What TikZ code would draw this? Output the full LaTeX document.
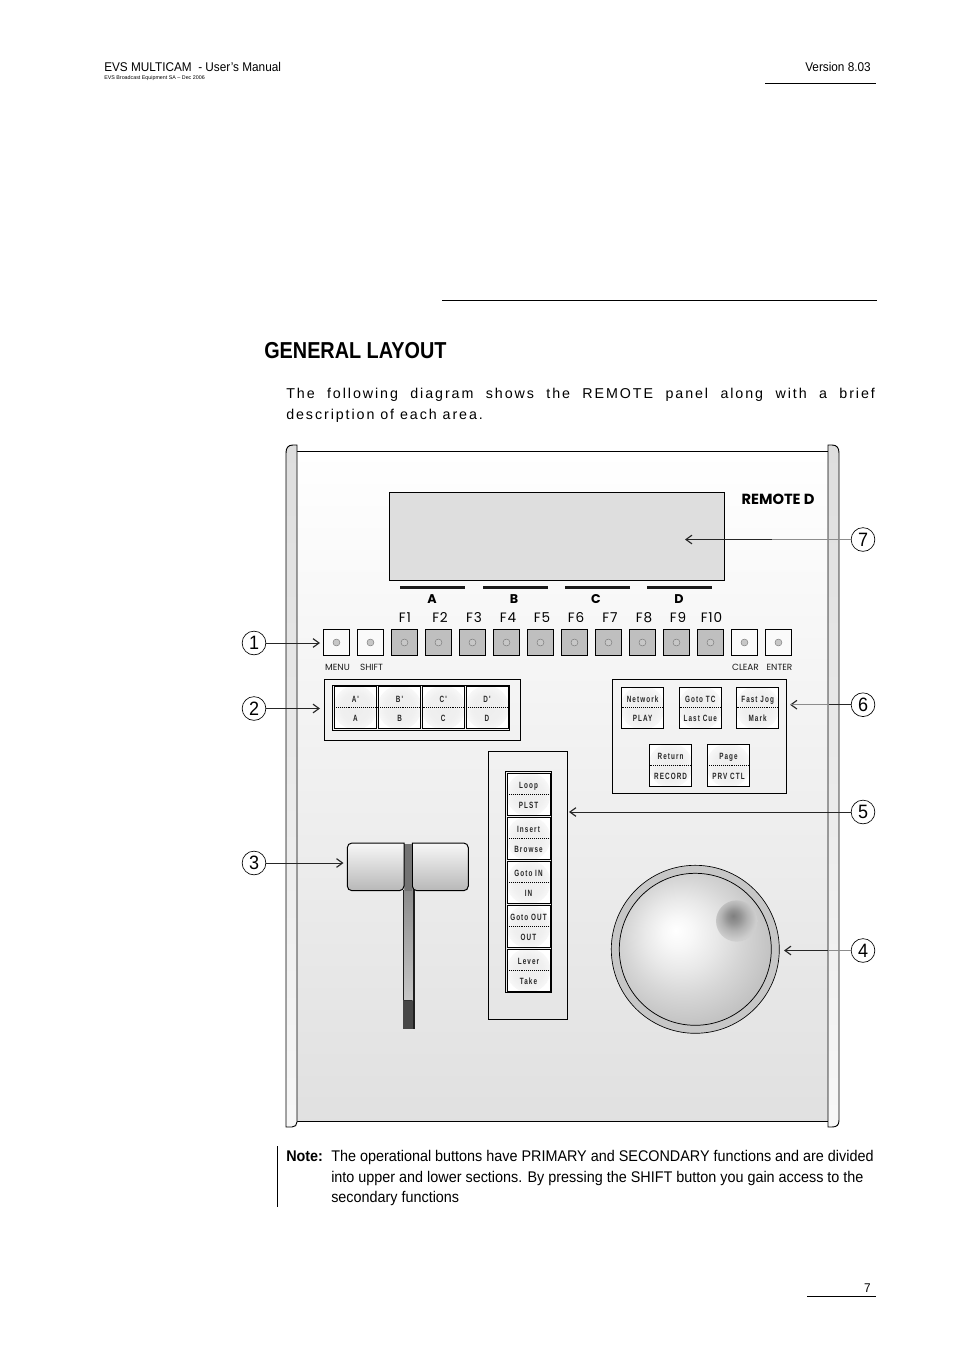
\documentclass[tikz,border=0pt]{standalone}
\usepackage{fontspec}
\usetikzlibrary{arrows.meta}
\setmainfont{Liberation Sans}
\newfontfamily\btnfont[LetterSpace=12,FakeStretch=0.7]{Liberation Sans}
\newfontfamily\geofont{Poppins}
\newfontfamily\geowide[LetterSpace=6]{Poppins}
\newfontfamily\parafont[LetterSpace=13.5]{Liberation Sans}
\newfontfamily\headfont[FakeStretch=0.86]{Liberation Sans}
\newfontfamily\condfont[FakeStretch=0.93]{Liberation Sans}
\pgfdeclareradialshading{knobshade}{\pgfpoint{-6.5bp}{6.3bp}}{color(0bp)=(white);color(5bp)=(white!97!black);color(12bp)=(white!91!black);color(19bp)=(white!84!black);color(27bp)=(white!77!black);color(35bp)=(white!71!black);color(50bp)=(white!71!black)}
\pgfdeclareradialshading{dimpleshade}{\pgfpoint{-4.5bp}{6.4bp}}{color(0bp)=(white!50!black);color(8bp)=(white!58!black);color(16bp)=(white!70!black);color(25bp)=(white!80!black);color(35bp)=(white!84!black);color(50bp)=(white!84!black)}
\pgfdeclareradialshading{glowshade}{\pgfpoint{0bp}{0bp}}{color(0bp)=(white!93!black);color(17bp)=(white!94!black);color(25bp)=(white!97!black);color(50bp)=(white)}
\tikzset{
  x=0.75pt,y=-0.75pt,
  ink/.style={draw=black,line width=0.75pt},
  thin ink/.style={draw=black,line width=0.55pt},
  lamp/.style={circle,draw=black!55,fill=black!22,line width=0.3pt,minimum size=5.2pt,inner sep=0pt},
  fkey/.style={rectangle,draw=black,line width=0.65pt,minimum size=19.8pt,inner sep=0pt},
  whitekey/.style={fkey,fill=white!98!black},
  greykey/.style={fkey,fill=black!25},
  keylabel/.style={inner sep=0pt,font=\geofont\fontsize{6.7}{7}\selectfont,text=black!90},
  flabel/.style={inner sep=0pt,anchor=base,font=\geowide\fontsize{10.2}{11}\selectfont},
  letterlabel/.style={inner sep=0pt,anchor=base,font=\geofont\bfseries\fontsize{9.5}{10}\selectfont},
  btntext/.style={inner sep=0pt,anchor=base,font=\btnfont\bfseries\fontsize{6.8}{7}\selectfont,text=black!85},
  callout/.style={circle,draw=black,line width=0.5pt,fill=white,minimum size=17.8pt,inner sep=0pt,font=\condfont\fontsize{14.5}{15}\selectfont},
  pointer/.style={draw=black!85,line width=0.55pt,-{Straight Barb[length=4.5pt,width=6.5pt,line width=0.85pt]}},
  pale/.style={draw=black!45,line width=0.55pt},
  body/.style={inner sep=0pt,anchor=base west,font=\condfont\fontsize{11.6}{12}\selectfont},
  strip/.style={draw=black,line width=0.7pt,top color=black!13,bottom color=white!97!black},
  handle/.style={ink,top color=white!97!black,middle color=white!93!black,bottom color=black!28},
}
\newcommand{\opbtn}[7]{%
  \draw[thin ink,fill=white] (#2,#3) rectangle (#4,#5);
  \begin{scope}
    \clip (#2,#3) rectangle (#4,#5);
    \shade[shading=glowshade] ({(#2+#4)/2},{(#3+#5)/2}) circle (16.5pt);
  \end{scope}
  \draw[thin ink] (#2,#3) rectangle (#4,#5);
  \draw[black,line width=0.45pt,densely dotted] (#2,{(#3+#5)/2}) -- (#4,{(#3+#5)/2});
  \node[btntext] (#1-top) at ({(#2+#4)/2},{(#3+#5)/2-5.5}) {#6};
  \node[btntext] (#1-bot) at ({(#2+#4)/2},{(#3+#5)/2+14}) {#7};
}
\newcommand{\panelkey}[3]{%
  \node[#3] (#1) at (#2+13.25,642.5) {};
  \node[lamp] (#1-lamp) at (#1.center) {};
}
\begin{document}
\begin{tikzpicture}
\useasboundingbox (0,0) rectangle (954,1350);
\fill[white] (0,0) rectangle (954,1350);
% page furniture
\node[inner sep=0pt,anchor=base west,font=\condfont\fontsize{9.5}{10}\selectfont] (hdr) at (104,71) {EVS MULTICAM\ \ - User’s Manual};
\node[inner sep=0pt,anchor=base west,font=\fontsize{4}{4.5}\selectfont] (sub) at (104,79) {EVS Broadcast Equipment SA – Dec 2006};
\node[inner sep=0pt,anchor=base east,font=\condfont\fontsize{9.5}{10}\selectfont] (ver) at (871,71) {Version 8.03};
\draw[ink] (765,83) -- (876,83);
\draw[ink] (442,300) -- (877,300);
\node[inner sep=0pt,anchor=base west,font=\headfont\bfseries\fontsize{17.3}{20}\selectfont] (title) at (264,358) {GENERAL LAYOUT};
\node[inner sep=0pt,anchor=base west,font=\parafont\fontsize{10.7}{12}\selectfont] (p1) at (286,398) {\makebox[441.5pt][s]{The following diagram shows the REMOTE panel along with a brief}};
\node[inner sep=0pt,anchor=base west,font=\parafont\fontsize{10.7}{12}\selectfont] (p2) at (286,419) {description of each area.};
% panel
\path[top color=white,bottom color=black!12] (297,451) rectangle (828,1121);
\draw[ink] (297,451) -- (828,451);
\draw[ink] (297,1121) -- (828,1121);
\draw[strip] (297,445) -- (293,445) .. controls (288,445) and (286,448) .. (286,453) -- (286,1127) -- (292,1127) .. controls (295,1127) and (297,1125) .. (297,1122) -- cycle;
\draw[strip] (828,445) -- (832,445) .. controls (837,445) and (839,448) .. (839,453) -- (839,1120) .. controls (839,1125) and (837,1127) .. (832,1127) -- (828,1127) -- cycle;
% display
\draw[ink,fill=black!13] (389,492) rectangle (724,580.5);
\node[inner sep=0pt,font=\geofont\bfseries\fontsize{11}{12}\selectfont] (remote) at (778,499.5) {REMOTE D};
\foreach \a/\b in {400/465,483/548,565/630,647/712} \fill[black!90] (\a,585.5) rectangle (\b,588.5);
\node[letterlabel] (la) at (432,603.5) {A};
\node[letterlabel] (lb) at (514,603.5) {B};
\node[letterlabel] (lc) at (596,603.5) {C};
\node[letterlabel] (ld) at (679,603.5) {D};
\foreach \n/\x in {F1/405,F2/440,F3/474,F4/508,F5/542,F6/576,F7/610,F8/644,F9/678,F10/711.5}
  \node[flabel] (lab\n) at (\x,622.5) {\n};
% keys
\panelkey{menu}{323.2}{whitekey}
\panelkey{shift}{357.2}{whitekey}
\foreach \n/\x in {f1/391.2,f2/425.2,f3/459.2,f4/493.2,f5/527.2,f6/561.2,f7/595.2,f8/629.2,f9/663.2,f10/697.2}
  {\panelkey{\n}{\x}{greykey}}
\panelkey{clear}{731.2}{whitekey}
\panelkey{enter}{765.2}{whitekey}
\node[keylabel] (lmenu) at (337.5,667) {MENU};
\node[keylabel] (lshift) at (371.5,667) {SHIFT};
\node[keylabel] (lclear) at (745.5,667) {CLEAR};
\node[keylabel] (lenter) at (779.5,667) {ENTER};
% group 2
\draw[thin ink] (324.5,679) rectangle (520.5,740.5);
\draw[thin ink] (332,685.5) rectangle (509.5,730.5);
\opbtn{ga}{334}{686.5}{376.8}{728.8}{A'}{A}
\opbtn{gb}{378.3}{686.5}{420.8}{728.8}{B'}{B}
\opbtn{gc}{422.5}{686.5}{464}{728.8}{C'}{C}
\opbtn{gd}{466}{686.5}{508}{728.8}{D'}{D}
% group 6
\draw[thin ink] (612.3,679) rectangle (786.7,793.3);
\opbtn{n1}{621.5}{687}{663.7}{728.3}{Network}{PLAY}
\opbtn{n2}{679.5}{687}{721}{728.3}{Goto TC}{Last Cue}
\opbtn{n3}{736.5}{687}{778.7}{728.3}{Fast Jog}{Mark}
\opbtn{n4}{649.5}{744.3}{691.7}{786.5}{Return}{RECORD}
\opbtn{n5}{707.3}{744.3}{749.7}{786.5}{Page}{PRV CTL}
% group 5
\draw[thin ink] (488.3,751.7) rectangle (567.7,1019.3);
\draw[thin ink] (505.3,771.7) rectangle (551.7,992.5);
\opbtn{v1}{507}{773.3}{550}{815.5}{Loop}{PLST}
\opbtn{v2}{507}{817.5}{550}{859.3}{Insert}{Browse}
\opbtn{v3}{507}{861.3}{550}{903.3}{Goto IN}{IN}
\opbtn{v4}{507}{905.5}{550}{947.3}{Goto OUT}{OUT}
\opbtn{v5}{507}{949.3}{550}{991.3}{Lever}{Take}
% fader
\fill[black!88] (402.5,890) rectangle (414.5,1029);
\fill[black!72] (402.8,1000) rectangle (412.5,1029);
\path[top color=black!55,bottom color=black!22] (404,844) rectangle (412.3,1000);
\draw[line width=0.5pt,black!80] (404,1000) -- (412.3,1000);
\draw[handle] (404,843) [rounded corners=3.5pt] -- (347.3,843) -- (347.3,890.7) -- (404,890.7) [sharp corners] -- cycle;
\draw[handle] (412.3,843) [rounded corners=3.5pt] -- (468.3,843) -- (468.3,890.7) -- (412.3,890.7) [sharp corners] -- cycle;
\fill[black!55] (404.5,844) rectangle (412,890.5);
% knob
\draw[line width=0.5pt,draw=black,fill=black!22] (695.3,949.3) circle (63pt);
\draw[line width=0.55pt,draw=black,shading=knobshade] (695.3,949.3) circle (57pt);
\shade[shading=dimpleshade] (736.7,921) circle (15.5pt);
% callouts
\node[callout] (c1) at (254,643) {1};
\node[callout] (c2) at (254,708.5) {2};
\node[callout] (c3) at (254,863) {3};
\node[callout] (c4) at (863,950.5) {4};
\node[callout] (c5) at (863,812) {5};
\node[callout] (c6) at (863,704.7) {6};
\node[callout] (c7) at (863,539.5) {7};
\coordinate (t1) at (320,643);
\coordinate (t2) at (320,708.5);
\coordinate (t3) at (343.5,863);
\coordinate (t4) at (784,950.5);
\coordinate (t5) at (569,812);
\coordinate (t6) at (790,704.7);
\coordinate (t7) at (685,539.5);
\coordinate (f4) at (828,950.5);
\coordinate (f6) at (829,704.7);
\coordinate (f7) at (772,539.5);
\draw[pointer] (c1) -- (t1);
\draw[pointer] (c2) -- (t2);
\draw[pointer] (c3) -- (t3);
\draw[pointer] (c4) -- (t4);
\draw[pointer] (c5) -- (t5);
\draw[pointer] (c6) -- (t6);
\draw[pointer] (c7) -- (t7);
\draw[pale] (c4) -- (f4);
\draw[pale] (f6) -- (t6);
\draw[pale] (c7) -- (f7);
% note
\draw[line width=0.6pt] (277,1146) -- (277,1207);
\node[body,font=\condfont\bfseries\fontsize{11.6}{12}\selectfont] (note) at (286,1161) {Note:};
\node[body] (n1l) at (331,1161) {The operational buttons have PRIMARY and SECONDARY functions and are divided};
\node[body] (n2l) at (331,1182) {into upper and lower sections. By pressing the SHIFT button you gain access to the};
\node[body] (n3l) at (331,1202) {secondary functions};
% page number
\node[inner sep=0pt,anchor=base east,font=\condfont\fontsize{9.5}{10}\selectfont] (pg) at (871,1292) {7};
\draw[ink] (807,1296.5) -- (876,1296.5);
\end{tikzpicture}
\end{document}
